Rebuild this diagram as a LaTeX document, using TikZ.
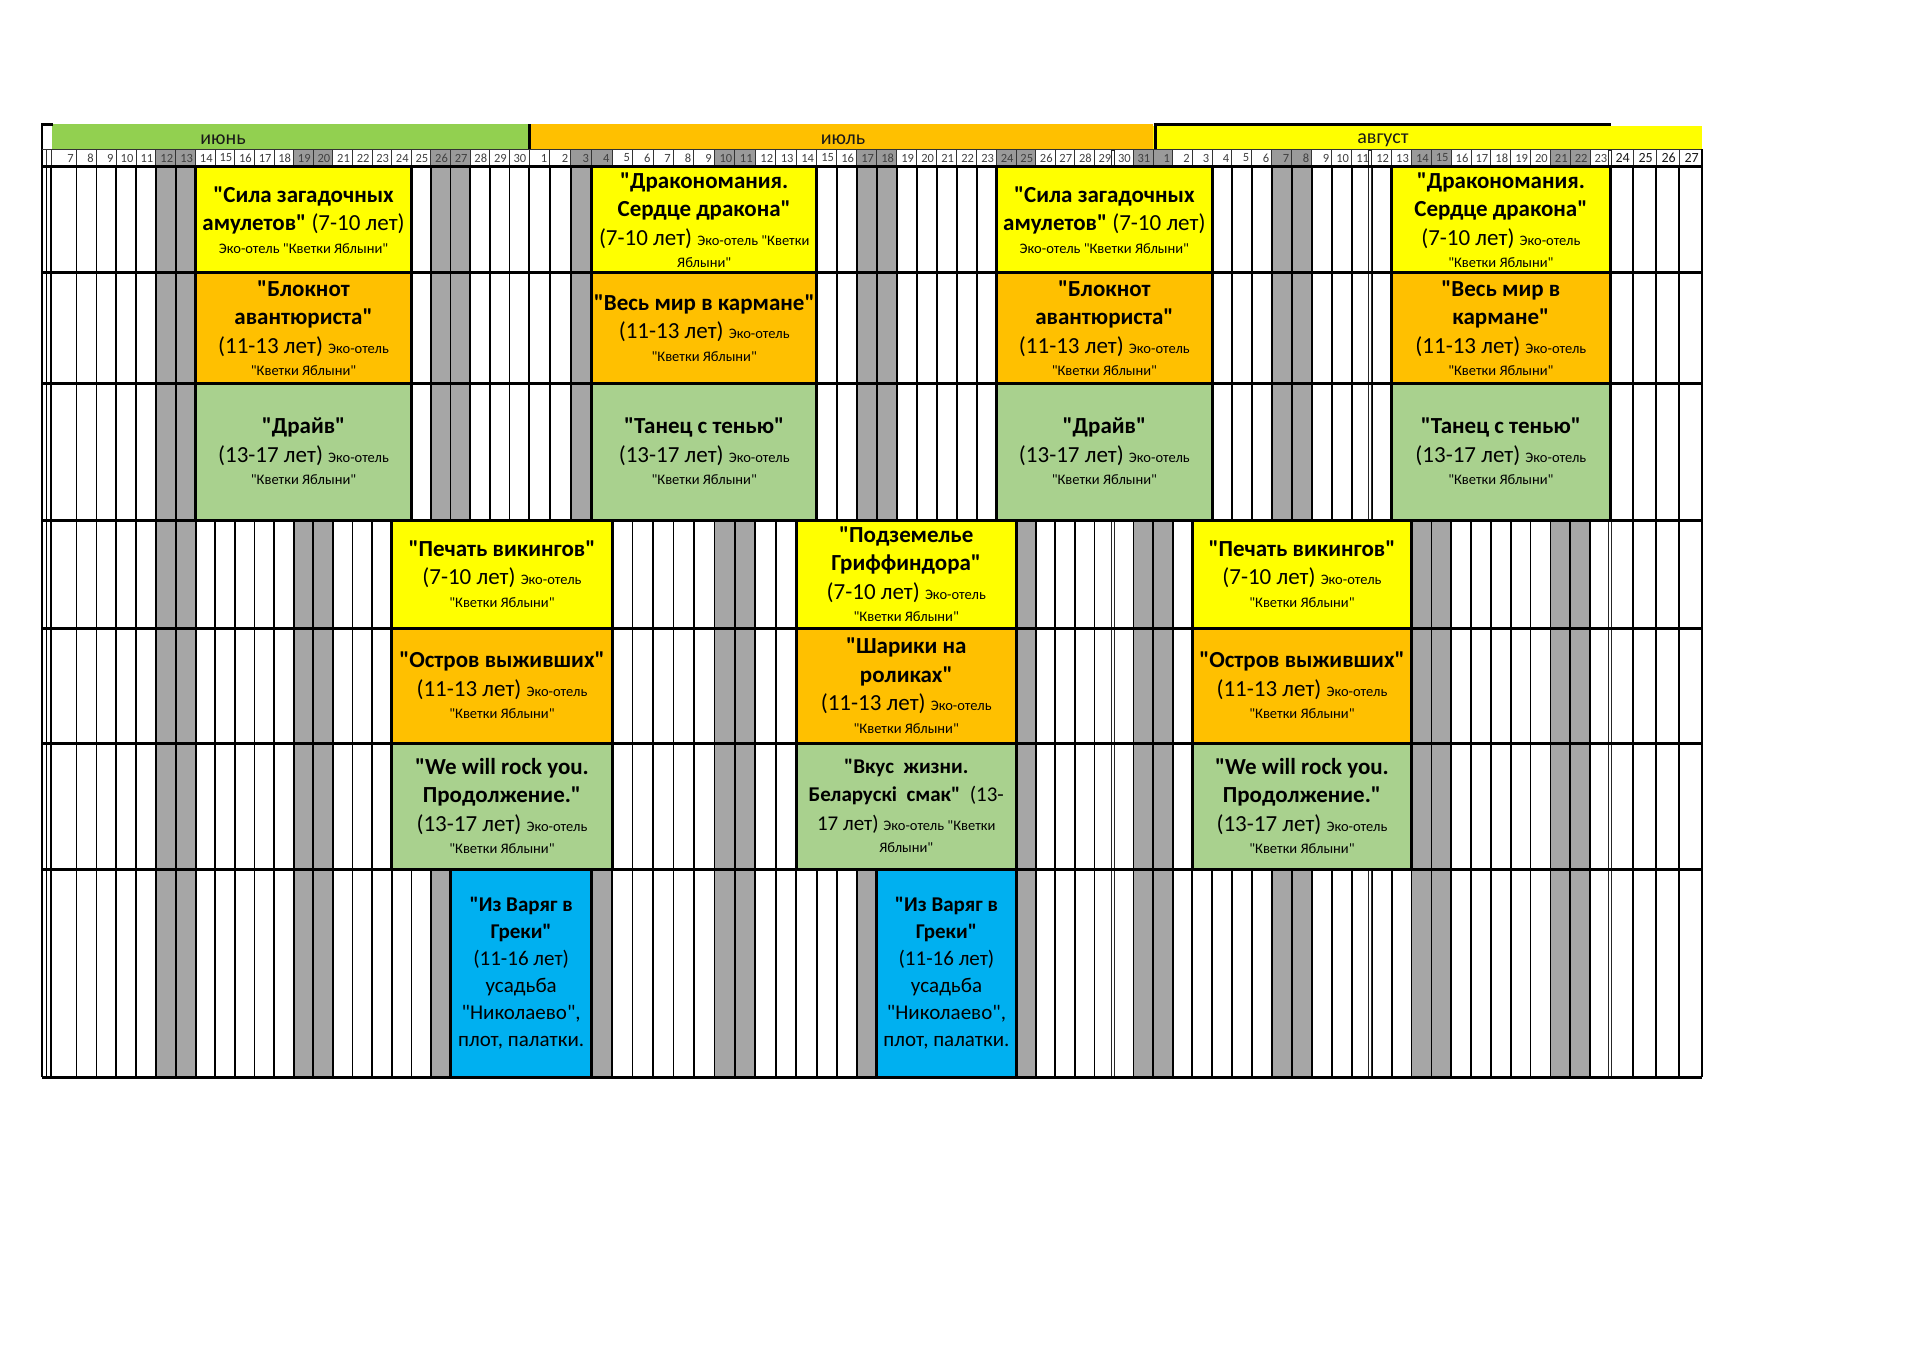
\documentclass[tikz,border=0pt]{standalone}
\usepackage{fontspec}
\setmainfont{Carlito}[Ligatures=TeXOff]
\usetikzlibrary{calc}
\definecolor{junG}{HTML}{92D050}
\definecolor{julO}{HTML}{FFC000}
\definecolor{augY}{HTML}{FFFF00}
\definecolor{boxY}{HTML}{FFFF00}
\definecolor{boxO}{HTML}{FFC000}
\definecolor{boxG}{HTML}{A9D18E}
\definecolor{boxB}{HTML}{00B0F0}
\definecolor{wkend}{HTML}{A6A6A6}
\definecolor{hdrgray}{HTML}{9A9A9A}
\newcommand\sm[1]{{\fontsize{14.5}{24}\selectfont #1}}
\newcommand\progbox[8][]{%
  \draw[boxline,fill=#7] (b#3|-r#5) rectangle (b#4|-r#6);
  \node[progtext,#1] (#2) at ($(b#3|-r#5)!0.5!(b#4|-r#6)$) {#8};
}
\tikzset{
  boxline/.style={line width=3pt,draw=black},
  rowline/.style={line width=3pt,draw=black},
  gridline/.style={line width=1.7pt,draw=black},
  dayline/.style={line width=1pt,draw=black!80},
  progtext/.style={font=\fontsize{23}{28.5}\selectfont,align=center,inner sep=0pt,text=black},
  midtext/.style={font=\fontsize{21}{28.5}\selectfont},
  bluetext/.style={font=\fontsize{21}{27}\selectfont},
  monthtext/.style={font=\fontsize{20}{22}\selectfont,inner sep=0pt,text=black!90},
  daytext/.style={font=\fontsize{12.5}{14}\selectfont,inner sep=0pt,text=black!75,anchor=east},
}
\begin{document}
\begin{tikzpicture}[x=1pt,y=-1pt]
\useasboundingbox (0,0) rectangle (1920,1356);
\fill[white] (0,0) rectangle (1920,1356);
% column boundaries
\foreach \ka/\xa/\kb/\xb in {0/51/1/76.5, 1/76.5/7/195.7, 7/195.7/24/529, 24/529/27/591.7, 27/591.7/38/816.7, 38/816.7/47/996.7, 47/996.7/55/1153, 55/1153/58/1212, 58/1212/67/1391.7, 67/1391.7/78/1610, 78/1610/82/1702}{
  \foreach \k in {\ka,...,\kb}{
    \pgfmathsetmacro\xx{\xa+(\k-\ka)*(\xb-\xa)/(\kb-\ka)}
    \coordinate (b\k) at (\xx,0);
  }
}
\coordinate (L1) at (42,0);
\coordinate (L2) at (46.5,0);
% rows
\foreach \r/\y in {0/167,1/273,2/383,3/520,4/628,5/743,6/869,7/1077}{
  \coordinate (r\r) at (0,\y);
}
\coordinate (mt) at (0,124.5);
\coordinate (mb) at (0,149.5);
\coordinate (hd) at (0,158);
% month bars
\fill[junG] (52,124.5) rectangle (b24|-mb);
\fill[julO] (b24|-mt) rectangle (b55|-mb);
\fill[augY] (1153,126) rectangle (b82|-mb);
\draw[line width=3pt] (b24|-mt) -- (b24|-mb);
\draw[line width=3pt] (1155,149.5) -- (1155,124.5) -- (1611,124.5);
\draw[line width=2.5pt] (53,124.5) -- (42,124.5) -- (L1|-r7);
\node[monthtext] (mJun) at (223,140) {июнь};
\node[monthtext] (mJul) at (843,140) {июль};
\node[monthtext] (mAug) at (1383,140) {август};
% day row weekend cells
\foreach \k in {5,6,12,13,19,20,26,27,33,34,40,41,47,48,54,55,61,62,68,69,75,76}{
  \pgfmathtruncatemacro\kn{\k+1}
  \fill[hdrgray] (b\k|-mb) rectangle (b\kn|-r0);
}
\draw[dayline] (L1|-mb) -- (b82|-mb);
\foreach \k in {0,...,82}{
  \draw[dayline] (b\k|-mb) -- (b\k|-r0);
}
\draw[dayline] (L2|-mb) -- (L2|-r0);
\foreach \k in {0,...,77}{
  \pgfmathtruncatemacro\kn{\k+1}
  \pgfmathtruncatemacro\dd{\k<24 ? \k+7 : (\k<55 ? \k-23 : \k-54)}
  \node[daytext] (d\k) at ($(b\kn|-hd)+(-2.5,0)$) {\dd};
}
\foreach \k in {78,...,81}{
  \pgfmathtruncatemacro\kn{\k+1}
  \pgfmathtruncatemacro\dd{\k-54}
  \node[daytext,font=\fontsize{14}{15}\selectfont,text=black!90] (d\k) at ($(b\kn|-hd)+(-3,0)$) {\dd};
}
% weekend columns in the grid
\foreach \k in {5,6,12,13,19,20,26,27,33,34,40,41,47,48,54,55,61,62,68,69,75,76}{
  \pgfmathtruncatemacro\kn{\k+1}
  \fill[wkend] (b\k|-r0) rectangle (b\kn|-r7);
}
% vertical grid lines
\foreach \k in {0,...,82}{
  \draw[gridline] (b\k|-r0) -- (b\k|-r7);
}
\draw[gridline] (L2|-r0) -- (L2|-r7);
\draw[line width=2.5pt] (L1|-r0) -- (L1|-r7);
% double lines
\foreach \xd in {1113,1370,1610}{
  \draw[line width=4pt,black!85] (\xd,150) -- (\xd,1077);
  \draw[line width=1.3pt,white] (\xd,151) -- (\xd,1076);
}
% programme boxes
\progbox{A1}{7}{18}{0}{1}{boxY}{\textbf{"Сила загадочных}\\\textbf{амулетов"} (7-10 лет)\\[-6pt]\sm{Эко-отель "Кветки Яблыни"}}
\progbox{B1}{27}{38}{0}{1}{boxY}{\textbf{"Дракономания.}\\\textbf{Сердце дракона"}\\(7-10 лет) \sm{Эко-отель "Кветки}\\[-6pt]\sm{Яблыни"}}
\progbox{C1}{47}{58}{0}{1}{boxY}{\textbf{"Сила загадочных}\\\textbf{амулетов"} (7-10 лет)\\[-6pt]\sm{Эко-отель "Кветки Яблыни"}}
\progbox{D1}{67}{78}{0}{1}{boxY}{\textbf{"Дракономания.}\\\textbf{Сердце дракона"}\\(7-10 лет) \sm{Эко-отель}\\[-6pt]\sm{"Кветки Яблыни"}}
\progbox{A2}{7}{18}{1}{2}{boxO}{\textbf{"Блокнот}\\\textbf{авантюриста"}\\(11-13 лет) \sm{Эко-отель}\\[-6pt]\sm{"Кветки Яблыни"}}
\progbox{B2}{27}{38}{1}{2}{boxO}{\textbf{"Весь мир в кармане"}\\(11-13 лет) \sm{Эко-отель}\\[-6pt]\sm{"Кветки Яблыни"}}
\progbox{C2}{47}{58}{1}{2}{boxO}{\textbf{"Блокнот}\\\textbf{авантюриста"}\\(11-13 лет) \sm{Эко-отель}\\[-6pt]\sm{"Кветки Яблыни"}}
\progbox{D2}{67}{78}{1}{2}{boxO}{\textbf{"Весь мир в}\\\textbf{кармане"}\\(11-13 лет) \sm{Эко-отель}\\[-6pt]\sm{"Кветки Яблыни"}}
\progbox{A3}{7}{18}{2}{3}{boxG}{\textbf{"Драйв"}\\(13-17 лет) \sm{Эко-отель}\\[-6pt]\sm{"Кветки Яблыни"}}
\progbox{B3}{27}{38}{2}{3}{boxG}{\textbf{"Танец с тенью"}\\(13-17 лет) \sm{Эко-отель}\\[-6pt]\sm{"Кветки Яблыни"}}
\progbox{C3}{47}{58}{2}{3}{boxG}{\textbf{"Драйв"}\\(13-17 лет) \sm{Эко-отель}\\[-6pt]\sm{"Кветки Яблыни"}}
\progbox{D3}{67}{78}{2}{3}{boxG}{\textbf{"Танец с тенью"}\\(13-17 лет) \sm{Эко-отель}\\[-6pt]\sm{"Кветки Яблыни"}}
\progbox{E4}{17}{28}{3}{4}{boxY}{\textbf{"Печать викингов"}\\(7-10 лет) \sm{Эко-отель}\\[-6pt]\sm{"Кветки Яблыни"}}
\progbox{F4}{37}{48}{3}{4}{boxY}{\textbf{"Подземелье}\\\textbf{Гриффиндора"}\\(7-10 лет) \sm{Эко-отель}\\[-6pt]\sm{"Кветки Яблыни"}}
\progbox{G4}{57}{68}{3}{4}{boxY}{\textbf{"Печать викингов"}\\(7-10 лет) \sm{Эко-отель}\\[-6pt]\sm{"Кветки Яблыни"}}
\progbox{E5}{17}{28}{4}{5}{boxO}{\textbf{"Остров выживших"}\\(11-13 лет) \sm{Эко-отель}\\[-6pt]\sm{"Кветки Яблыни"}}
\progbox{F5}{37}{48}{4}{5}{boxO}{\textbf{"Шарики на}\\\textbf{роликах"}\\(11-13 лет) \sm{Эко-отель}\\[-6pt]\sm{"Кветки Яблыни"}}
\progbox{G5}{57}{68}{4}{5}{boxO}{\textbf{"Остров выживших"}\\(11-13 лет) \sm{Эко-отель}\\[-6pt]\sm{"Кветки Яблыни"}}
\progbox{E6}{17}{28}{5}{6}{boxG}{\textbf{"We will rock you.}\\\textbf{Продолжение."}\\(13-17 лет) \sm{Эко-отель}\\[-6pt]\sm{"Кветки Яблыни"}}
\progbox[midtext]{F6}{37}{48}{5}{6}{boxG}{\textbf{"Вкус\ \ жизни.}\\\textbf{Беларускі\ \ смак"}\ \ (13-\\17 лет) \sm{Эко-отель "Кветки}\\[-6pt]\sm{Яблыни"}}
\progbox{G6}{57}{68}{5}{6}{boxG}{\textbf{"We will rock you.}\\\textbf{Продолжение."}\\(13-17 лет) \sm{Эко-отель}\\[-6pt]\sm{"Кветки Яблыни"}}
\progbox[bluetext]{H7}{20}{27}{6}{7}{boxB}{\textbf{"Из Варяг в}\\\textbf{Греки"}\\(11-16 лет)\\усадьба\\"Николаево",\\плот, палатки.}
\progbox[bluetext]{I7}{41}{48}{6}{7}{boxB}{\textbf{"Из Варяг в}\\\textbf{Греки"}\\(11-16 лет)\\усадьба\\"Николаево",\\плот, палатки.}
% row lines
\foreach \r in {0,...,7}{
  \draw[rowline] (L1|-r\r) -- (b82|-r\r);
}
\draw[gridline] (b82|-mb) -- (b82|-r7);
\end{tikzpicture}
\end{document}
